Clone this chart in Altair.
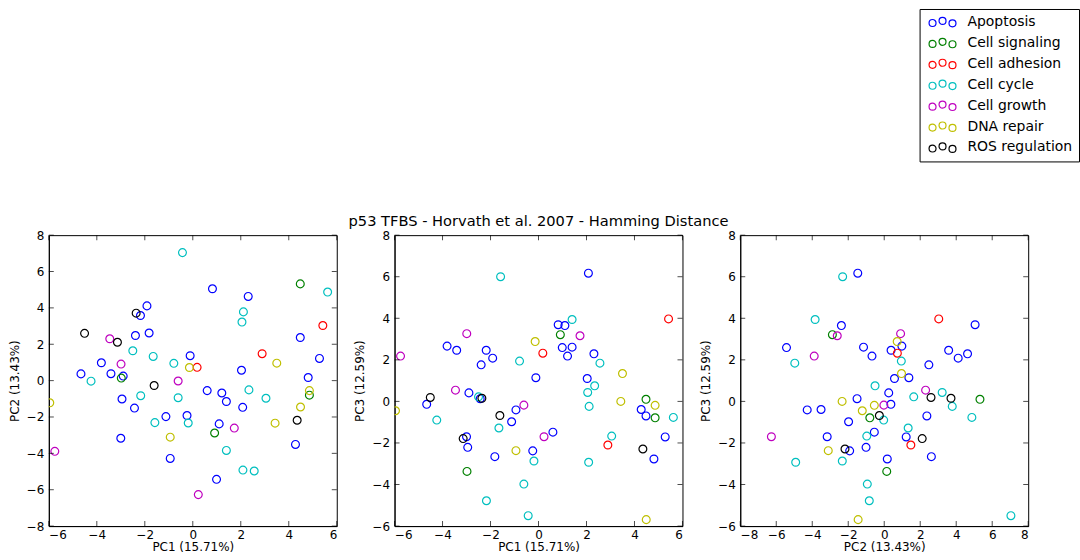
import altair as alt
import pandas as pd

categories = ["Apoptosis", "Cell signaling", "Cell adhesion", "Cell cycle",
              "Cell growth", "DNA repair", "ROS regulation"]
colors = ["#0000ff", "#008000", "#ff0000", "#00bfbf", "#bf00bf", "#bfbf00", "#000000"]

# (PC1, PC2, PC3) per gene
apoptosis = [
    (2.08, -1.47, 6.17), (0.82, 5.05, 3.69), (1.10, -2.38, 3.65), (0.99, -5.43, 2.59),
    (1.40, -1.15, 2.61), (1.21, -0.68, 2.18), (2.31, 4.63, 2.29), (-3.81, 0.98, 2.66),
    (-3.41, 0.38, 2.46), (-2.18, 3.58, 2.46), (-1.91, 4.11, 2.08), (-2.39, 2.48, 1.76),
    (-0.11, 1.37, 1.14), (2.03, 0.57, 1.10), (-2.90, 0.25, 0.41), (-4.66, 0.37, -0.14),
    (-2.43, -1.51, 0.13), (-0.94, -4.28, -0.41), (-1.12, -1.98, -0.98), (0.60, -0.55, -1.48),
    (-3.00, -3.17, -1.70), (-2.95, -1.01, -2.21), (-1.82, 2.62, -2.66), (-0.24, -1.92, -2.38),
    (4.28, -3.51, -0.39), (4.48, 2.37, -0.70), (5.28, 1.22, -1.71), (4.81, 0.17, -2.77),
]
cell_signaling = [(0.91, -2.88, 3.21), (4.48, 5.32, 0.10), (4.86, -0.80, -0.79), (-2.98, 0.14, -3.37)]
cell_adhesion = [(5.42, 3.03, 3.97), (0.18, 0.73, 2.32), (2.89, 1.48, -2.10)]
cell_cycle = [
    (-1.58, -2.31, 6.00), (1.40, -3.84, 3.94), (-0.79, 0.95, 1.94), (2.56, -4.97, 1.84),
    (2.34, -0.51, 0.75), (2.05, 3.22, 0.43), (2.11, 3.78, -0.24), (-2.50, 1.64, 0.22),
    (-4.24, -0.03, -0.90), (-1.65, 1.33, -1.28), (3.05, -0.97, -1.67), (-0.19, -2.33, -2.87),
    (2.09, -4.92, -2.93), (-0.61, -0.94, -3.98), (-2.17, -0.83, -4.78), (-0.43, 7.04, -5.50),
    (5.62, 4.87, -0.77),
]
cell_growth = [(-2.99, 0.91, 3.26), (1.73, -2.61, 3.16), (-5.75, -3.89, 2.18),
               (-3.46, 2.30, 0.54), (-0.61, -0.02, -0.18), (0.23, -6.27, -1.70)]
dna_repair = [(-0.14, 0.72, 2.88), (3.50, 0.96, 1.34), (3.43, -2.34, 0.00), (-5.96, -1.22, -0.45),
              (4.86, -0.55, -0.19), (-0.94, -3.11, -2.37), (4.49, -1.45, -5.69)]
ros_regulation = [(-4.51, 2.60, 0.19), (-2.36, 3.71, 0.15), (-1.61, -0.27, -0.68),
                  (-3.14, 2.11, -1.79), (4.35, -2.18, -2.29)]

groups = [apoptosis, cell_signaling, cell_adhesion, cell_cycle, cell_growth, dna_repair, ros_regulation]

ticks_pc1 = [-6, -4, -2, 0, 2, 4, 6]
ticks_pc2 = [-8, -6, -4, -2, 0, 2, 4, 6, 8]
ticks_pc3 = [-6, -4, -2, 0, 2, 4, 6, 8]

title_text = "p53 TFBS - Horvath et al. 2007 - Hamming Distance"

rows = []
for cat, pts in zip(categories, groups):
    for p1, p2, p3 in pts:
        rows.append({"Category": cat, "PC1": p1, "PC2": p2, "PC3": p3})
df = pd.DataFrame(rows)

W, H = 289, 292
FONT = "DejaVu Sans"

glyph = ("M-1,0.3 A1,1 0 1,0 1,0.3 A1,1 0 1,0 -1,0.3 Z "
         "M1.86,-0.3 A1,1 0 1,0 3.86,-0.3 A1,1 0 1,0 1.86,-0.3 Z "
         "M4.72,0.4 A1,1 0 1,0 6.72,0.4 A1,1 0 1,0 4.72,0.4 Z")


def panel(xf, yf, xtitle, ytitle, xticks, yticks, show_legend):
    xdom = [xticks[0], xticks[-1]]
    ydom = [yticks[0], yticks[-1]]
    xs = alt.Scale(domain=xdom, nice=False, zero=False)
    ys = alt.Scale(domain=ydom, nice=False, zero=False)
    xax = alt.Axis(values=xticks, title=xtitle, ticks=False, grid=False,
                   labelPadding=3, titlePadding=2, labelFontSize=12, titleFontSize=12,
                   labelFont=FONT, titleFont=FONT, titleFontWeight="normal",
                   labelColor="black", titleColor="black", domainColor="black")
    yax = alt.Axis(values=yticks, title=ytitle, ticks=False, grid=False,
                   labelPadding=5, titlePadding=5, labelFontSize=12, titleFontSize=12,
                   labelFont=FONT, titleFont=FONT, titleFontWeight="normal",
                   labelColor="black", titleColor="black", domainColor="black")
    leg = None
    if show_legend:
        leg = alt.Legend(title=None, orient="none", legendX=874, legendY=-227,
                         symbolType=glyph, symbolSize=49, symbolStrokeWidth=1.2,
                         symbolFillColor="transparent",
                         labelFontSize=14, labelFont=FONT, labelColor="black",
                         labelOffset=28, rowPadding=6, padding=6,
                         strokeColor="black", fillColor="white", cornerRadius=0)
    pts = alt.Chart(df).mark_point(shape="circle", filled=False, size=62,
                                   strokeWidth=1.2, opacity=1, clip=True).encode(
        x=alt.X(xf, type="quantitative", scale=xs, axis=xax),
        y=alt.Y(yf, type="quantitative", scale=ys, axis=yax),
        color=alt.Color("Category:N", scale=alt.Scale(domain=categories, range=colors),
                        legend=leg),
    )
    xt = pd.DataFrame({xf: xticks})
    yt = pd.DataFrame({yf: yticks})
    xb = alt.Chart(xt).mark_tick(size=5, thickness=1, color="black").encode(
        x=alt.X(xf, type="quantitative", scale=xs, axis=xax), y=alt.value(H - 2.5))
    xtp = alt.Chart(xt).mark_tick(size=5, thickness=1, color="black").encode(
        x=alt.X(xf, type="quantitative", scale=xs, axis=xax), y=alt.value(2.5))
    yl = alt.Chart(yt).mark_tick(size=5, thickness=1, color="black").encode(
        y=alt.Y(yf, type="quantitative", scale=ys, axis=yax), x=alt.value(2.5))
    yr = alt.Chart(yt).mark_tick(size=5, thickness=1, color="black").encode(
        y=alt.Y(yf, type="quantitative", scale=ys, axis=yax), x=alt.value(W - 2.5))
    return alt.layer(pts, xb, xtp, yl, yr).properties(width=W, height=H)


p1 = panel("PC1", "PC2", "PC1 (15.71%)", "PC2 (13.43%)", ticks_pc1, ticks_pc2, True)
p2 = panel("PC1", "PC3", "PC1 (15.71%)", "PC3 (12.59%)", ticks_pc1, ticks_pc3, False).properties(
    title=alt.TitleParams(text=title_text, fontSize=14.7, fontWeight="normal", font=FONT,
                          color="black", anchor="middle", offset=0))
p3 = panel("PC2", "PC3", "PC2 (13.43%)", "PC3 (12.59%)", ticks_pc2, ticks_pc3, False)

chart = alt.hconcat(p1, p2, p3, spacing=58, bounds="flush").resolve_scale(
    color="shared").resolve_legend(color="shared").properties(
    padding={"left": 7, "top": 7, "right": 0, "bottom": 0},
    background="white",
).configure_view(stroke="black", strokeWidth=1)

chart.save("out.html", embed_options={"renderer": "svg", "actions": False})
